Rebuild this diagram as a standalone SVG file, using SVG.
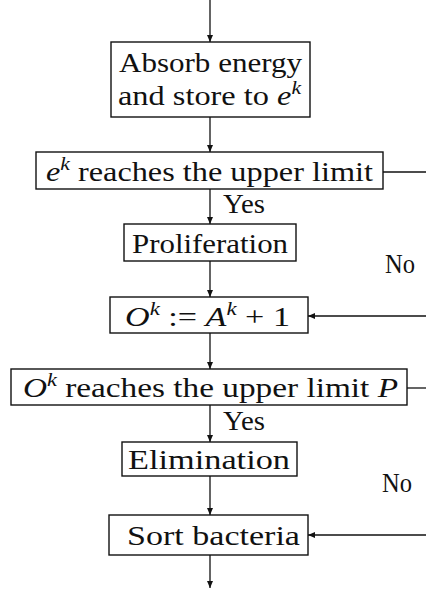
<svg xmlns="http://www.w3.org/2000/svg" width="426" height="589" viewBox="0 0 426 589">
<style>
.box{fill:#fff;stroke:#111;stroke-width:1.4}
.t{font-family:"Liberation Serif","DejaVu Serif",serif;font-size:27px;fill:#111}
.i{font-style:italic}
.c{fill:none;stroke:#111;stroke-width:1.3}
</style>
<defs>
<marker id="ah" markerWidth="8" markerHeight="8" refX="7" refY="4" orient="auto" markerUnits="userSpaceOnUse">
<path d="M0,1 L7,4 L0,7 z" fill="#111"/>
</marker>
</defs>
<rect width="426" height="589" fill="#fff"/>
<g id="connectors">
<line class="c" x1="210" y1="0" x2="210" y2="42" marker-end="url(#ah)"/>
<line class="c" x1="210" y1="117" x2="210" y2="152" marker-end="url(#ah)"/>
<line class="c" x1="210" y1="189" x2="210" y2="224" marker-end="url(#ah)"/>
<line class="c" x1="210" y1="261" x2="210" y2="297" marker-end="url(#ah)"/>
<line class="c" x1="383" y1="172" x2="426" y2="172"/>
<line class="c" x1="426" y1="316" x2="308" y2="316" marker-end="url(#ah)"/>
<line class="c" x1="210" y1="333" x2="210" y2="369" marker-end="url(#ah)"/>
<line class="c" x1="407" y1="388" x2="426" y2="388"/>
<line class="c" x1="210" y1="405" x2="210" y2="442" marker-end="url(#ah)"/>
<line class="c" x1="210" y1="476" x2="210" y2="515" marker-end="url(#ah)"/>
<line class="c" x1="426" y1="535" x2="308" y2="535" marker-end="url(#ah)"/>
<line class="c" x1="210" y1="555" x2="210" y2="588" marker-end="url(#ah)"/>
<text class="t" x="223" y="213" textLength="42" lengthAdjust="spacingAndGlyphs">Yes</text>
<text class="t" x="385" y="273" textLength="30" lengthAdjust="spacingAndGlyphs">No</text>
<text class="t" x="223" y="430" textLength="42" lengthAdjust="spacingAndGlyphs">Yes</text>
<text class="t" x="382" y="492" textLength="30" lengthAdjust="spacingAndGlyphs">No</text>
</g>
<g id="absorb">
<rect class="box" x="111" y="42" width="199" height="75"/>
<text class="t" x="119" y="72" textLength="183" lengthAdjust="spacingAndGlyphs">Absorb energy</text>
<text class="t" x="118" y="105" textLength="183" lengthAdjust="spacingAndGlyphs">and store to <tspan class="i">e</tspan><tspan class="i" font-size="18" dy="-11">k</tspan></text>
</g>
<g id="ek-limit">
<rect class="box" x="36" y="152" width="347" height="37"/>
<text class="t" x="46" y="181" textLength="327" lengthAdjust="spacingAndGlyphs"><tspan class="i">e</tspan><tspan class="i" font-size="18" dy="-11">k</tspan><tspan dy="11"> reaches the upper limit</tspan></text>
</g>
<g id="proliferation">
<rect class="box" x="124" y="224" width="172" height="37"/>
<text class="t" x="132" y="253" textLength="156" lengthAdjust="spacingAndGlyphs">Proliferation</text>
</g>
<g id="assign">
<rect class="box" x="110" y="297" width="198" height="36"/>
<text class="t" x="125" y="326" textLength="165" lengthAdjust="spacingAndGlyphs"><tspan class="i">O</tspan><tspan class="i" font-size="18" dy="-11">k</tspan><tspan dy="11"> := </tspan><tspan class="i">A</tspan><tspan class="i" font-size="18" dy="-11">k</tspan><tspan dy="11"> + 1</tspan></text>
</g>
<g id="ok-limit">
<rect class="box" x="11" y="369" width="396" height="36"/>
<text class="t" x="23" y="397" textLength="375" lengthAdjust="spacingAndGlyphs"><tspan class="i">O</tspan><tspan class="i" font-size="18" dy="-11">k</tspan><tspan dy="11"> reaches the upper limit </tspan><tspan class="i">P</tspan></text>
</g>
<g id="elimination">
<rect class="box" x="122" y="442" width="175" height="34"/>
<text class="t" x="128" y="469" textLength="162" lengthAdjust="spacingAndGlyphs">Elimination</text>
</g>
<g id="sort">
<rect class="box" x="109" y="515" width="199" height="40"/>
<text class="t" x="127" y="545" textLength="173" lengthAdjust="spacingAndGlyphs">Sort bacteria</text>
</g>
</svg>
